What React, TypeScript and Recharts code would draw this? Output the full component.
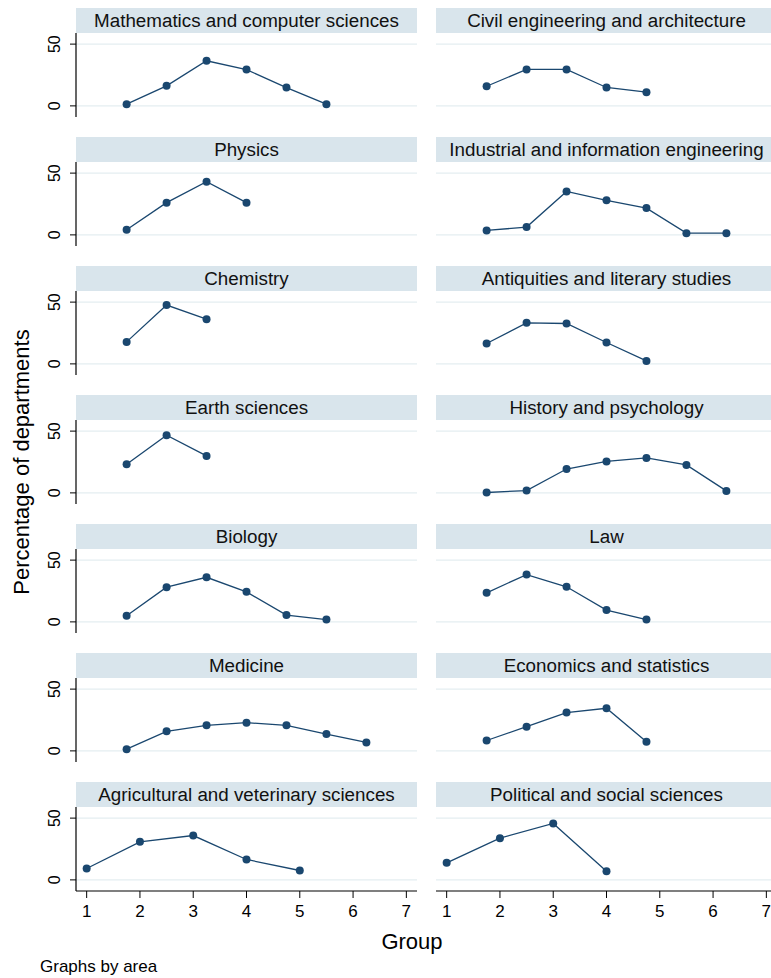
import React from 'react';
import { LineChart, Line, XAxis, YAxis, ReferenceLine } from 'recharts';

// x positions used by the upper panels and the bottom row
const groupX = [1.75, 2.5, 3.25, 4, 4.75, 5.5, 6.25];
const bottomGroupX = [1, 2, 3, 4, 5, 6, 7];
const xTicks = [1, 2, 3, 4, 5, 6, 7];
const yTicks = [0, 50];

// percentage of departments by group
const mathComputer = [1.4, 16.2, 36.5, 29.4, 14.8, 1.4];
const civilEngineering = [15.9, 29.5, 29.5, 14.9, 11.1];
const physics = [4.1, 26.1, 43.1, 26.1];
const industrialInfo = [3.6, 6.3, 35.2, 28.0, 21.7, 1.4, 1.4];
const chemistry = [17.8, 47.6, 36.2];
const antiquities = [16.5, 33.2, 32.7, 17.3, 2.4];
const earthSciences = [23.1, 46.7, 29.9];
const historyPsych = [0.3, 1.9, 19.3, 25.5, 28.3, 22.6, 1.6];
const biology = [4.9, 28.1, 36.1, 24.3, 5.5, 1.9];
const law = [23.5, 38.3, 28.4, 9.6, 1.9];
const medicine = [1.4, 15.8, 20.7, 22.8, 20.7, 13.6, 6.8];
const economics = [8.4, 19.6, 31.0, 34.5, 7.3];
const agricultural = [9.2, 30.8, 35.9, 16.5, 7.6];
const political = [13.8, 33.8, 45.7, 7.0];

const panels = [
  { title: 'Mathematics and computer sciences', values: mathComputer },
  { title: 'Civil engineering and architecture', values: civilEngineering },
  { title: 'Physics', values: physics },
  { title: 'Industrial and information engineering', values: industrialInfo },
  { title: 'Chemistry', values: chemistry },
  { title: 'Antiquities and literary studies', values: antiquities },
  { title: 'Earth sciences', values: earthSciences },
  { title: 'History and psychology', values: historyPsych },
  { title: 'Biology', values: biology },
  { title: 'Law', values: law },
  { title: 'Medicine', values: medicine },
  { title: 'Economics and statistics', values: economics },
  { title: 'Agricultural and veterinary sciences', values: agricultural },
  { title: 'Political and social sciences', values: political },
];

const FONT = '"Liberation Sans", Arial, Helvetica, sans-serif';
const NAVY = '#1a476f';
const STRIP = '#d9e5ec';
const GRID = '#e4eef1';
const PANEL_W = 341;
const PLOT_H = 84;
const TITLE_H = 25.5;
const ROW_STEP = 129;
const TOP = 7.5;
const Y_AXIS_W = 40;

const YTick = (props: any) => {
  const { x, y, payload } = props;
  return (
    <text
      x={x}
      y={y}
      transform={`rotate(-90 ${x} ${y})`}
      textAnchor="middle"
      fontSize={16}
      fontFamily={FONT}
      fill="#000"
    >
      {payload.value}
    </text>
  );
};

function Panel({ title, values, index }: { title: string; values: number[]; index: number }) {
  const col = index % 2;
  const row = Math.floor(index / 2);
  const bottom = row === 6;
  const xs = bottom ? bottomGroupX : groupX;
  const data = values.map((v, i) => ({ x: xs[i], v }));
  const left = col === 0 ? 76 : 436;
  const top = TOP + row * ROW_STEP;
  const chartLeft = col === 0 ? left - Y_AXIS_W : left;
  const chartW = col === 0 ? PANEL_W + Y_AXIS_W : PANEL_W;
  const chartH = PLOT_H + (bottom ? 34 : 0);

  return (
    <>
      <div
        style={{
          position: 'absolute',
          left,
          top,
          width: PANEL_W,
          height: TITLE_H,
          background: STRIP,
          fontFamily: FONT,
          fontSize: 18.8,
          lineHeight: `${TITLE_H}px`,
          textAlign: 'center',
          color: '#111',
          whiteSpace: 'nowrap',
        }}
      >
        {title}
      </div>
      <div style={{ position: 'absolute', left: chartLeft, top: top + TITLE_H }}>
        <LineChart width={chartW} height={chartH} data={data} margin={{ top: 0, right: 0, bottom: 0, left: 0 }}>
          <XAxis
            type="number"
            dataKey="x"
            domain={[0.8, 7.2]}
            ticks={xTicks}
            hide={!bottom}
            height={34}
            axisLine={{ stroke: '#000', strokeWidth: 1.2 }}
            tickLine={{ stroke: '#000' }}
            tickSize={7}
            tickMargin={7}
            tick={{ fontSize: 17, fill: '#000', fontFamily: FONT }}
          />
          <YAxis
            type="number"
            domain={[-9, 59]}
            ticks={yTicks}
            hide={col !== 0}
            width={Y_AXIS_W}
            axisLine={{ stroke: '#000', strokeWidth: 1.2 }}
            tickLine={{ stroke: '#000' }}
            tickSize={6}
            tickMargin={10}
            tick={<YTick />}
          />
          {yTicks.map((t) => (
            <ReferenceLine key={t} y={t} stroke={GRID} strokeWidth={1.2} />
          ))}
          <Line
            type="linear"
            dataKey="v"
            stroke={NAVY}
            strokeWidth={1.3}
            dot={{ r: 4, fill: NAVY, stroke: NAVY, strokeWidth: 0 }}
            isAnimationActive={false}
          />
        </LineChart>
      </div>
    </>
  );
}

export default function App() {
  return (
    <div
      style={{
        position: 'absolute',
        left: 0,
        top: 0,
        width: 771,
        height: 978,
        background: '#fff',
        overflow: 'hidden',
        fontFamily: FONT,
      }}
    >
      {panels.map((p, i) => (
        <Panel key={p.title} title={p.title} values={p.values} index={i} />
      ))}
      <div
        style={{
          position: 'absolute',
          left: 22,
          top: 462,
          transform: 'translate(-50%, -50%) rotate(-90deg)',
          fontSize: 22,
          whiteSpace: 'nowrap',
          color: '#000',
        }}
      >
        Percentage of departments
      </div>
      <div
        style={{
          position: 'absolute',
          left: 412,
          top: 942,
          transform: 'translate(-50%, -50%)',
          fontSize: 22,
          color: '#000',
        }}
      >
        Group
      </div>
      <div
        style={{
          position: 'absolute',
          left: 40,
          top: 967,
          transform: 'translateY(-50%)',
          fontSize: 17,
          color: '#000',
        }}
      >
        Graphs by area
      </div>
    </div>
  );
}
